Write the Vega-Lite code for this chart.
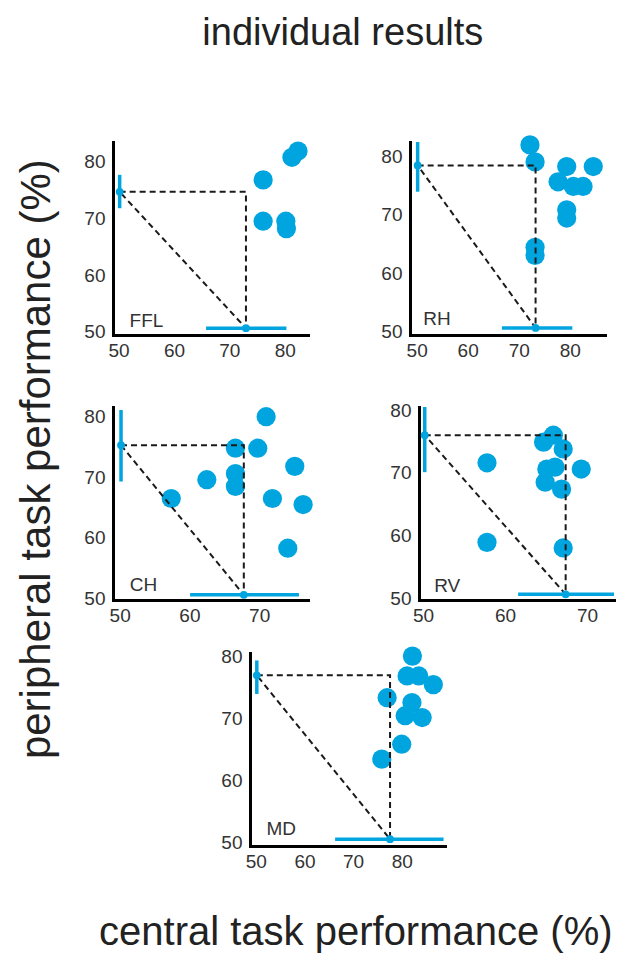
{
  "$schema": "https://vega.github.io/schema/vega-lite/v6.json",
  "padding": {"left": 15, "top": 15, "right": 5, "bottom": 5},
  "title": {"text": "individual results", "fontSize": 38, "anchor": "middle", "offset": 82, "dx": 27},
  "config": {
    "font": "Liberation Sans",
    "view": {"stroke": null},
    "title": {"font": "Liberation Sans", "fontWeight": "normal", "color": "#222"},
    "axis": {"domainColor": "#000", "domainWidth": 3, "domainCap": "square", "ticks": false, "grid": false, "labelFont": "Liberation Sans", "labelFontSize": 19, "labelColor": "#333", "labelOverlap": false, "labelFlush": false},
    "axisX": {"labelPadding": 6},
    "axisY": {"labelPadding": 8}
  },
  "datasets": {
    "points": [
      {"panel": "FFL", "central": 76.1, "peripheral": 76.8},
      {"panel": "FFL", "central": 76.1, "peripheral": 69.5},
      {"panel": "FFL", "central": 80.2, "peripheral": 69.5},
      {"panel": "FFL", "central": 80.3, "peripheral": 68.2},
      {"panel": "FFL", "central": 81.3, "peripheral": 80.8},
      {"panel": "FFL", "central": 82.4, "peripheral": 81.9},
      {"panel": "RH", "central": 72.2, "peripheral": 81.9},
      {"panel": "RH", "central": 73.2, "peripheral": 79.0},
      {"panel": "RH", "central": 73.2, "peripheral": 64.4},
      {"panel": "RH", "central": 73.2, "peripheral": 63.0},
      {"panel": "RH", "central": 79.4, "peripheral": 78.2},
      {"panel": "RH", "central": 77.7, "peripheral": 75.6},
      {"panel": "RH", "central": 80.7, "peripheral": 74.8},
      {"panel": "RH", "central": 82.6, "peripheral": 74.8},
      {"panel": "RH", "central": 84.6, "peripheral": 78.2},
      {"panel": "RH", "central": 79.4, "peripheral": 70.8},
      {"panel": "RH", "central": 79.4, "peripheral": 69.4},
      {"panel": "CH", "central": 71.0, "peripheral": 80.0},
      {"panel": "CH", "central": 66.6, "peripheral": 74.8},
      {"panel": "CH", "central": 69.8, "peripheral": 74.8},
      {"panel": "CH", "central": 66.6, "peripheral": 70.6},
      {"panel": "CH", "central": 66.6, "peripheral": 68.5},
      {"panel": "CH", "central": 62.5, "peripheral": 69.6},
      {"panel": "CH", "central": 57.4, "peripheral": 66.5},
      {"panel": "CH", "central": 71.9, "peripheral": 66.5},
      {"panel": "CH", "central": 74.1, "peripheral": 58.3},
      {"panel": "CH", "central": 75.1, "peripheral": 71.8},
      {"panel": "CH", "central": 76.3, "peripheral": 65.5},
      {"panel": "RV", "central": 57.8, "peripheral": 71.6},
      {"panel": "RV", "central": 57.8, "peripheral": 58.9},
      {"panel": "RV", "central": 67.1, "peripheral": 58.0},
      {"panel": "RV", "central": 65.9, "peripheral": 76.0},
      {"panel": "RV", "central": 64.7, "peripheral": 74.9},
      {"panel": "RV", "central": 67.1, "peripheral": 73.8},
      {"panel": "RV", "central": 65.1, "peripheral": 70.6},
      {"panel": "RV", "central": 66.1, "peripheral": 70.9},
      {"panel": "RV", "central": 64.9, "peripheral": 68.5},
      {"panel": "RV", "central": 66.9, "peripheral": 67.4},
      {"panel": "RV", "central": 69.3, "peripheral": 70.6},
      {"panel": "MD", "central": 82.2, "peripheral": 80.1},
      {"panel": "MD", "central": 81.1, "peripheral": 76.9},
      {"panel": "MD", "central": 83.5, "peripheral": 76.9},
      {"panel": "MD", "central": 86.5, "peripheral": 75.5},
      {"panel": "MD", "central": 77.0, "peripheral": 73.4},
      {"panel": "MD", "central": 82.1, "peripheral": 72.6},
      {"panel": "MD", "central": 80.7, "peripheral": 70.5},
      {"panel": "MD", "central": 84.2, "peripheral": 70.2},
      {"panel": "MD", "central": 80.0, "peripheral": 65.9},
      {"panel": "MD", "central": 75.9, "peripheral": 63.5}
    ],
    "summary": [
      {"panel": "FFL", "meanC": 73.0, "meanP": 74.7, "cLo": 65.8, "cHi": 80.3, "pLo": 71.8, "pHi": 77.7},
      {"panel": "RH", "meanC": 73.3, "meanP": 78.4, "cLo": 66.7, "cHi": 80.5, "pLo": 73.9, "pHi": 82.4},
      {"panel": "CH", "meanC": 67.8, "meanP": 75.3, "cLo": 60.1, "cHi": 75.7, "pLo": 69.3, "pHi": 81.1},
      {"panel": "RV", "meanC": 67.4, "meanP": 76.0, "cLo": 61.6, "cHi": 73.3, "pLo": 70.1, "pHi": 80.5},
      {"panel": "MD", "meanC": 77.6, "meanP": 77.0, "cLo": 66.3, "cHi": 88.6, "pLo": 74.0, "pHi": 79.4}
    ],
    "guides": [
      {"panel": "FFL", "step": 1, "c": 50.2, "p": 74.7},
      {"panel": "FFL", "step": 2, "c": 73.0, "p": 74.7},
      {"panel": "FFL", "step": 3, "c": 73.0, "p": 50.6},
      {"panel": "FFL", "step": 4, "c": 50.2, "p": 74.7},
      {"panel": "RH", "step": 1, "c": 50.2, "p": 78.4},
      {"panel": "RH", "step": 2, "c": 73.3, "p": 78.4},
      {"panel": "RH", "step": 3, "c": 73.3, "p": 50.6},
      {"panel": "RH", "step": 4, "c": 50.2, "p": 78.4},
      {"panel": "CH", "step": 1, "c": 50.2, "p": 75.3},
      {"panel": "CH", "step": 2, "c": 67.8, "p": 75.3},
      {"panel": "CH", "step": 3, "c": 67.8, "p": 50.6},
      {"panel": "CH", "step": 4, "c": 50.2, "p": 75.3},
      {"panel": "RV", "step": 1, "c": 50.2, "p": 76.0},
      {"panel": "RV", "step": 2, "c": 67.4, "p": 76.0},
      {"panel": "RV", "step": 3, "c": 67.4, "p": 50.6},
      {"panel": "RV", "step": 4, "c": 50.2, "p": 76.0},
      {"panel": "MD", "step": 1, "c": 50.2, "p": 77.0},
      {"panel": "MD", "step": 2, "c": 77.6, "p": 77.0},
      {"panel": "MD", "step": 3, "c": 77.6, "p": 50.6},
      {"panel": "MD", "step": 4, "c": 50.2, "p": 77.0}
    ]
  },
  "vconcat": [{
    "title": {"text": "central task performance (%)", "orient": "bottom", "fontSize": 40, "offset": 42, "anchor": "middle", "dx": 40},
    "vconcat": [{
      "title": {"text": "peripheral task performance (%)", "orient": "left", "fontSize": 42, "offset": 25, "anchor": "middle", "dx": 44},
      "spacing": 21,
      "vconcat": [
        {"spacing": 41, "vconcat": [
          {"spacing": 72, "hconcat": [
            {"width": 195, "height": 193, "layer": [
              {"data": {"name": "points"}, "transform": [{"filter": "datum.panel === 'FFL'"}],
               "mark": {"type": "point", "filled": true, "size": 370, "opacity": 1, "color": "#00a5df"},
               "encoding": {
                 "x": {"field": "central", "type": "quantitative", "title": null, "scale": {"domain": [49, 84.2], "nice": false, "zero": false}, "axis": {"values": [50, 60, 70, 80]}},
                 "y": {"field": "peripheral", "type": "quantitative", "title": null, "scale": {"domain": [49.4, 83.5], "nice": false, "zero": false}, "axis": {"values": [50, 60, 70, 80]}}}},
              {"data": {"name": "guides"}, "transform": [{"filter": "datum.panel === 'FFL'"}],
               "mark": {"type": "line", "color": "#1a1a1a", "strokeWidth": 2, "strokeDash": [6, 4]},
               "encoding": {"x": {"field": "c", "type": "quantitative", "title": null}, "y": {"field": "p", "type": "quantitative", "title": null}, "order": {"field": "step"}}},
              {"data": {"name": "summary"}, "transform": [{"filter": "datum.panel === 'FFL'"}], "layer": [
                {"mark": {"type": "rule", "color": "#00a5df", "strokeWidth": 3.5}, "encoding": {"x": {"field": "cLo", "type": "quantitative", "title": null}, "x2": {"field": "cHi"}, "y": {"datum": 50.6}}},
                {"mark": {"type": "rule", "color": "#00a5df", "strokeWidth": 3.5}, "encoding": {"x": {"datum": 50.2}, "y": {"field": "pLo", "type": "quantitative", "title": null}, "y2": {"field": "pHi"}}},
                {"mark": {"type": "point", "filled": true, "size": 60, "opacity": 1, "color": "#00a5df"}, "encoding": {"x": {"field": "meanC", "type": "quantitative", "title": null}, "y": {"datum": 50.6}}},
                {"mark": {"type": "point", "filled": true, "size": 60, "opacity": 1, "color": "#00a5df"}, "encoding": {"x": {"datum": 50.2}, "y": {"field": "meanP", "type": "quantitative", "title": null}}},
                {"mark": {"type": "text", "align": "left", "baseline": "alphabetic", "fontSize": 19, "color": "#333"}, "encoding": {"x": {"datum": 52.0}, "y": {"datum": 50.9}, "text": {"field": "panel"}}}
              ]}
            ]},
            {"width": 195, "height": 193, "layer": [
              {"data": {"name": "points"}, "transform": [{"filter": "datum.panel === 'RH'"}],
               "mark": {"type": "point", "filled": true, "size": 370, "opacity": 1, "color": "#00a5df"},
               "encoding": {
                 "x": {"field": "central", "type": "quantitative", "title": null, "scale": {"domain": [48.7, 86.9], "nice": false, "zero": false}, "axis": {"values": [50, 60, 70, 80]}},
                 "y": {"field": "peripheral", "type": "quantitative", "title": null, "scale": {"domain": [49.4, 82.4], "nice": false, "zero": false}, "axis": {"values": [50, 60, 70, 80]}}}},
              {"data": {"name": "guides"}, "transform": [{"filter": "datum.panel === 'RH'"}],
               "mark": {"type": "line", "color": "#1a1a1a", "strokeWidth": 2, "strokeDash": [6, 4]},
               "encoding": {"x": {"field": "c", "type": "quantitative", "title": null}, "y": {"field": "p", "type": "quantitative", "title": null}, "order": {"field": "step"}}},
              {"data": {"name": "summary"}, "transform": [{"filter": "datum.panel === 'RH'"}], "layer": [
                {"mark": {"type": "rule", "color": "#00a5df", "strokeWidth": 3.5}, "encoding": {"x": {"field": "cLo", "type": "quantitative", "title": null}, "x2": {"field": "cHi"}, "y": {"datum": 50.6}}},
                {"mark": {"type": "rule", "color": "#00a5df", "strokeWidth": 3.5}, "encoding": {"x": {"datum": 50.2}, "y": {"field": "pLo", "type": "quantitative", "title": null}, "y2": {"field": "pHi"}}},
                {"mark": {"type": "point", "filled": true, "size": 60, "opacity": 1, "color": "#00a5df"}, "encoding": {"x": {"field": "meanC", "type": "quantitative", "title": null}, "y": {"datum": 50.6}}},
                {"mark": {"type": "point", "filled": true, "size": 60, "opacity": 1, "color": "#00a5df"}, "encoding": {"x": {"datum": 50.2}, "y": {"field": "meanP", "type": "quantitative", "title": null}}},
                {"mark": {"type": "text", "align": "left", "baseline": "alphabetic", "fontSize": 19, "color": "#333"}, "encoding": {"x": {"datum": 51.3}, "y": {"datum": 51.1}, "text": {"field": "panel"}}}
              ]}
            ]}
          ]},
          {"spacing": 76, "hconcat": [
            {"width": 195, "height": 193, "layer": [
              {"data": {"name": "points"}, "transform": [{"filter": "datum.panel === 'CH'"}],
               "mark": {"type": "point", "filled": true, "size": 370, "opacity": 1, "color": "#00a5df"},
               "encoding": {
                 "x": {"field": "central", "type": "quantitative", "title": null, "scale": {"domain": [49.05, 77.0], "nice": false, "zero": false}, "axis": {"values": [50, 60, 70]}},
                 "y": {"field": "peripheral", "type": "quantitative", "title": null, "scale": {"domain": [49.75, 81.6], "nice": false, "zero": false}, "axis": {"values": [50, 60, 70, 80]}}}},
              {"data": {"name": "guides"}, "transform": [{"filter": "datum.panel === 'CH'"}],
               "mark": {"type": "line", "color": "#1a1a1a", "strokeWidth": 2, "strokeDash": [6, 4]},
               "encoding": {"x": {"field": "c", "type": "quantitative", "title": null}, "y": {"field": "p", "type": "quantitative", "title": null}, "order": {"field": "step"}}},
              {"data": {"name": "summary"}, "transform": [{"filter": "datum.panel === 'CH'"}], "layer": [
                {"mark": {"type": "rule", "color": "#00a5df", "strokeWidth": 3.5}, "encoding": {"x": {"field": "cLo", "type": "quantitative", "title": null}, "x2": {"field": "cHi"}, "y": {"datum": 50.6}}},
                {"mark": {"type": "rule", "color": "#00a5df", "strokeWidth": 3.5}, "encoding": {"x": {"datum": 50.2}, "y": {"field": "pLo", "type": "quantitative", "title": null}, "y2": {"field": "pHi"}}},
                {"mark": {"type": "point", "filled": true, "size": 60, "opacity": 1, "color": "#00a5df"}, "encoding": {"x": {"field": "meanC", "type": "quantitative", "title": null}, "y": {"datum": 50.6}}},
                {"mark": {"type": "point", "filled": true, "size": 60, "opacity": 1, "color": "#00a5df"}, "encoding": {"x": {"datum": 50.2}, "y": {"field": "meanP", "type": "quantitative", "title": null}}},
                {"mark": {"type": "text", "align": "left", "baseline": "alphabetic", "fontSize": 19, "color": "#333"}, "encoding": {"x": {"datum": 51.45}, "y": {"datum": 51.2}, "text": {"field": "panel"}}}
              ]}
            ]},
            {"width": 195, "height": 193, "layer": [
              {"data": {"name": "points"}, "transform": [{"filter": "datum.panel === 'RV'"}],
               "mark": {"type": "point", "filled": true, "size": 370, "opacity": 1, "color": "#00a5df"},
               "encoding": {
                 "x": {"field": "central", "type": "quantitative", "title": null, "scale": {"domain": [49.5, 73.3], "nice": false, "zero": false}, "axis": {"values": [50, 60, 70]}},
                 "y": {"field": "peripheral", "type": "quantitative", "title": null, "scale": {"domain": [49.7, 80.5], "nice": false, "zero": false}, "axis": {"values": [50, 60, 70, 80]}}}},
              {"data": {"name": "guides"}, "transform": [{"filter": "datum.panel === 'RV'"}],
               "mark": {"type": "line", "color": "#1a1a1a", "strokeWidth": 2, "strokeDash": [6, 4]},
               "encoding": {"x": {"field": "c", "type": "quantitative", "title": null}, "y": {"field": "p", "type": "quantitative", "title": null}, "order": {"field": "step"}}},
              {"data": {"name": "summary"}, "transform": [{"filter": "datum.panel === 'RV'"}], "layer": [
                {"mark": {"type": "rule", "color": "#00a5df", "strokeWidth": 3.5}, "encoding": {"x": {"field": "cLo", "type": "quantitative", "title": null}, "x2": {"field": "cHi"}, "y": {"datum": 50.6}}},
                {"mark": {"type": "rule", "color": "#00a5df", "strokeWidth": 3.5}, "encoding": {"x": {"datum": 50.2}, "y": {"field": "pLo", "type": "quantitative", "title": null}, "y2": {"field": "pHi"}}},
                {"mark": {"type": "point", "filled": true, "size": 60, "opacity": 1, "color": "#00a5df"}, "encoding": {"x": {"field": "meanC", "type": "quantitative", "title": null}, "y": {"datum": 50.6}}},
                {"mark": {"type": "point", "filled": true, "size": 60, "opacity": 1, "color": "#00a5df"}, "encoding": {"x": {"datum": 50.2}, "y": {"field": "meanP", "type": "quantitative", "title": null}}},
                {"mark": {"type": "text", "align": "left", "baseline": "alphabetic", "fontSize": 19, "color": "#333"}, "encoding": {"x": {"datum": 51.35}, "y": {"datum": 51.0}, "text": {"field": "panel"}}}
              ]}
            ]}
          ]}
        ]},
        {"spacing": 0, "hconcat": [
          {"width": 107, "height": 10, "data": {"values": [{"panel": "none"}]}, "mark": {"type": "point", "opacity": 0}, "encoding": {}},
          {"width": 195, "height": 193, "layer": [
            {"data": {"name": "points"}, "transform": [{"filter": "datum.panel === 'MD'"}],
             "mark": {"type": "point", "filled": true, "size": 370, "opacity": 1, "color": "#00a5df"},
             "encoding": {
               "x": {"field": "central", "type": "quantitative", "title": null, "scale": {"domain": [48.8, 88.9], "nice": false, "zero": false}, "axis": {"values": [50, 60, 70, 80, 90]}},
               "y": {"field": "peripheral", "type": "quantitative", "title": null, "scale": {"domain": [49.5, 80.6], "nice": false, "zero": false}, "axis": {"values": [50, 60, 70, 80]}}}},
            {"data": {"name": "guides"}, "transform": [{"filter": "datum.panel === 'MD'"}],
             "mark": {"type": "line", "color": "#1a1a1a", "strokeWidth": 2, "strokeDash": [6, 4]},
             "encoding": {"x": {"field": "c", "type": "quantitative", "title": null}, "y": {"field": "p", "type": "quantitative", "title": null}, "order": {"field": "step"}}},
            {"data": {"name": "summary"}, "transform": [{"filter": "datum.panel === 'MD'"}], "layer": [
              {"mark": {"type": "rule", "color": "#00a5df", "strokeWidth": 3.5}, "encoding": {"x": {"field": "cLo", "type": "quantitative", "title": null}, "x2": {"field": "cHi"}, "y": {"datum": 50.6}}},
              {"mark": {"type": "rule", "color": "#00a5df", "strokeWidth": 3.5}, "encoding": {"x": {"datum": 50.2}, "y": {"field": "pLo", "type": "quantitative", "title": null}, "y2": {"field": "pHi"}}},
              {"mark": {"type": "point", "filled": true, "size": 60, "opacity": 1, "color": "#00a5df"}, "encoding": {"x": {"field": "meanC", "type": "quantitative", "title": null}, "y": {"datum": 50.6}}},
              {"mark": {"type": "point", "filled": true, "size": 60, "opacity": 1, "color": "#00a5df"}, "encoding": {"x": {"datum": 50.2}, "y": {"field": "meanP", "type": "quantitative", "title": null}}},
              {"mark": {"type": "text", "align": "left", "baseline": "alphabetic", "fontSize": 19, "color": "#333"}, "encoding": {"x": {"datum": 52.2}, "y": {"datum": 51.2}, "text": {"field": "panel"}}}
            ]}
          ]}
        ]}
      ]
    }]
  }]
}
